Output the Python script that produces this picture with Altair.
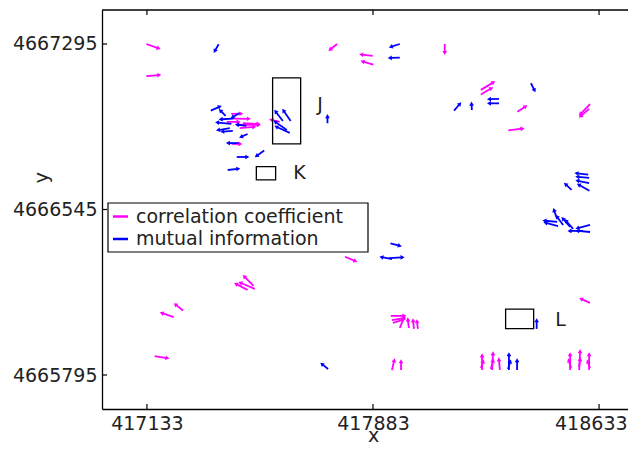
import altair as alt
import numpy as np
import pandas as pd

# ---------------- data ----------------
series_names = ["correlation coefficient", "mutual information"]
series_colors = ["#ff00ff", "#0000ff"]

xticks = [417133, 417883, 418633]
yticks = [4665795, 4666545, 4667295]
x_domain = [416984, 418729]
y_domain = [4665641, 4667449]

# correlation coefficient arrows (tail x, tail y, u, v) in metres
cc_x = [417131, 417131, 417764, 417882, 417884, 418121, 418241, 418241, 418362, 418603,
        418600, 418332, 417790, 417491, 417487, 417467, 417253, 417222, 417159, 418603,
        417942, 417946, 417949, 417972, 418002, 418019, 418032, 417946, 417976, 418245,
        418241, 418278, 418274, 418304, 418537, 418540, 418567, 418567, 418600, 418603,
        417413, 417419, 417430, 417452, 417441, 417398, 417574, 417414]
cc_y = [4667295, 4667149, 4667295, 4667241, 4667201, 4667295, 4667087, 4667066, 4666988, 4667023,
        4667001, 4666904, 4666331, 4666185, 4666199, 4666180, 4666087, 4666057, 4665881, 4666122,
        4666063, 4666044, 4666031, 4666008, 4666008, 4666004, 4666004, 4665818, 4665818, 4665818,
        4665827, 4665818, 4665822, 4665818, 4665818, 4665827, 4665818, 4665832, 4665818, 4665827,
        4666978, 4666957, 4666929, 4666936, 4666914, 4666942, 4666942, 4666842]
cc_u = [39, 41, -22, -36, -34, 0, 40, 33, 26, -31,
        -27, 45, 33, -46, -30, -37, -24, -38, 40, -28,
        43, 39, 33, 13, -3, -3, -3, 7, 0, 0,
        7, 3, 7, -3, 0, -7, 3, 3, 0, -7,
        31, 50, 72, 49, 46, 37, -27, 27]
cc_v = [-19, 5, -24, 6, 14, -38, 33, 27, 23, -45,
        -32, 7, -19, 27, 41, 27, 26, 18, -9, 17,
        0, 9, 14, 45, 36, 36, 32, 41, 36, 63,
        27, 72, 36, 45, 68, 32, 82, 32, 68, 27,
        1, -1, -1, -3, 5, 0, 9, 0]

# mutual information arrows
mi_x = [417371, 417972, 417972, 418407, 418301, 418301, 418152, 418211, 417732, 417584,
        417610, 417597, 417607, 417345, 417394, 417419, 417413, 417408, 417418, 417463,
        417467, 417441, 417441, 417431, 417522, 417401, 418597, 418600, 418600, 418601,
        418542, 418494, 418497, 418494, 418514, 418537, 418547, 418580, 418603, 418603,
        417941, 417936, 417946, 417734, 418426, 418334, 418331, 418361]
mi_y = [4667294, 4667295, 4667233, 4667117, 4667046, 4667026, 4666993, 4666996, 4666936, 4666946,
        4666946, 4666905, 4666892, 4666993, 4666969, 4666957, 4666933, 4666914, 4666901, 4666924,
        4666887, 4666982, 4666846, 4666783, 4666812, 4666724, 4666703, 4666688, 4666665, 4666630,
        4666634, 4666489, 4666470, 4666502, 4666475, 4666466, 4666457, 4666448, 4666475, 4666443,
        4666392, 4666325, 4666320, 4665822, 4666004, 4665818, 4665822, 4665818]
mi_u = [-12, -28, -31, 11, -31, -31, 18, -1, 0, -23,
        -23, -37, -43, 28, -16, -39, -45, -37, -33, -29,
        -20, -23, -37, 33, -24, 33, -37, -37, -37, -34,
        -19, -40, -40, -10, -20, -23, -23, -43, -40, -40,
        29, 43, -33, -19, 0, 0, 7, 0]
mi_v = [-29, -12, -1, -30, -1, 0, 29, 26, 29, 41,
        45, 36, 27, 17, 23, -3, 6, -9, -3, 5,
        -12, -18, 0, 0, -23, 5, 6, 5, 10, 26,
        24, 5, 14, 38, 36, 36, 36, 0, -14, 5,
        -11, 3, 9, 21, 36, 68, 32, 41]

# annotation boxes
box_names = ["J", "K", "L"]
box_x1 = [417550, 417496, 418323]
box_x2 = [417643, 417560, 418416]
box_y1 = [4666842, 4666679, 4666005]
box_y2 = [4667141, 4666739, 4666094]
label_x = [417707, 417639, 418505]
label_y = [4667019, 4666710, 4666044]

# ---------------- tables ----------------
W, H = 526, 399
df = pd.concat([
    pd.DataFrame({"x": cc_x, "y": cc_y, "u": cc_u, "v": cc_v, "series": series_names[0]}),
    pd.DataFrame({"x": mi_x, "y": mi_y, "u": mi_u, "v": mi_v, "series": series_names[1]}),
], ignore_index=True)
df["xe"] = df["x"] + df["u"]
df["ye"] = df["y"] + df["v"]
sx = W / (x_domain[1] - x_domain[0])
sy = H / (y_domain[1] - y_domain[0])
df["ang"] = (np.degrees(np.arctan2(df["u"] * sx, df["v"] * sy)) + 360) % 360

boxes = pd.DataFrame({"name": box_names, "x1": box_x1, "x2": box_x2, "y1": box_y1, "y2": box_y2,
                      "lx": label_x, "ly": label_y})
xt = pd.DataFrame({"t": xticks})
yt = pd.DataFrame({"t": yticks})
one = pd.DataFrame({"k": [0]})

FONT = "DejaVu Sans"
FS = 19
TXT = "#222222"

xs = alt.Scale(domain=x_domain, nice=False, zero=False)
ys = alt.Scale(domain=y_domain, nice=False, zero=False)
color = alt.Color("series:N", scale=alt.Scale(domain=series_names, range=series_colors), legend=None)

xaxis = alt.Axis(values=xticks, format="d", ticks=False, grid=False, domainColor="black",
                 domainWidth=1.3, labelFontSize=FS, labelColor=TXT, labelPadding=5,
                 labelFlush=30, labelFlushOffset=28, title="x", titleFontSize=FS,
                 titleFontWeight="normal", titleColor=TXT, titleX=271, titleY=36,
                 titleBaseline="bottom")
yaxis = alt.Axis(values=yticks, format="d", ticks=False, grid=False, domainColor="black",
                 domainWidth=1.3, labelFontSize=FS, labelColor=TXT, labelPadding=5,
                 labelFlush=False, title="y", titleFontSize=FS, titleFontWeight="normal",
                 titleColor=TXT, titleX=-61, titleY=167, titleBaseline="middle", titleAlign="center")


def X(field):
    return alt.X(field, scale=xs, axis=xaxis)


def Y(field):
    return alt.Y(field, scale=ys, axis=yaxis)


shafts = alt.Chart(df).mark_rule(strokeWidth=1.8).encode(
    x=X("x:Q"), y=Y("y:Q"), x2="xe:Q", y2="ye:Q", color=color)

heads = alt.Chart(df).mark_point(shape="triangle", filled=True, size=22, opacity=1).encode(
    x=X("xe:Q"), y=Y("ye:Q"),
    angle=alt.Angle("ang:Q", scale=None),
    color=color)

rects = alt.Chart(boxes).mark_rect(fillOpacity=0, stroke="black", strokeWidth=1.3).encode(
    x=X("x1:Q"), x2="x2:Q", y=Y("y1:Q"), y2="y2:Q")

rect_labels = alt.Chart(boxes).mark_text(fontSize=FS, color=TXT, align="center", baseline="middle").encode(
    x=X("lx:Q"), y=Y("ly:Q"), text="name:N")

tick_b = alt.Chart(xt).mark_rule(color="black", strokeWidth=1.2).encode(
    x=X("t:Q"), y=alt.value(H), y2=alt.value(H - 5))
tick_t = alt.Chart(xt).mark_rule(color="black", strokeWidth=1.2).encode(
    x=X("t:Q"), y=alt.value(0), y2=alt.value(5))
tick_l = alt.Chart(yt).mark_rule(color="black", strokeWidth=1.2).encode(
    y=Y("t:Q"), x=alt.value(0), x2=alt.value(5))
top_line = alt.Chart(one).mark_rule(color="black", strokeWidth=1.3).encode(
    x=alt.value(0), x2=alt.value(W), y=alt.value(0))

# legend box
leg_box = alt.Chart(one).mark_rect(fill="white", stroke="black", strokeWidth=1.2).encode(
    x=alt.value(6), x2=alt.value(266), y=alt.value(193), y2=alt.value(242))
leg_layers = []
for i, (name, col) in enumerate(zip(series_names, series_colors)):
    yy = 206.5 + 22.5 * i
    leg_layers.append(alt.Chart(one).mark_rule(color=col, strokeWidth=2.5).encode(
        x=alt.value(11), x2=alt.value(26), y=alt.value(yy)))
    leg_layers.append(alt.Chart(one).mark_text(align="left", baseline="middle", fontSize=FS, color=TXT).encode(
        x=alt.value(34), y=alt.value(yy), text=alt.value(name)))

chart = alt.layer(
    shafts, heads, rects, rect_labels, tick_b, tick_t, tick_l, top_line, leg_box, *leg_layers
).properties(
    width=W, height=H,
    autosize=alt.AutoSizeParams(type="none"),
    padding={"left": 94, "top": 2, "right": 0, "bottom": 36},
).configure(font=FONT).configure_view(stroke=None)

chart.save("out.html", embed_options={"renderer": "svg", "actions": False})
